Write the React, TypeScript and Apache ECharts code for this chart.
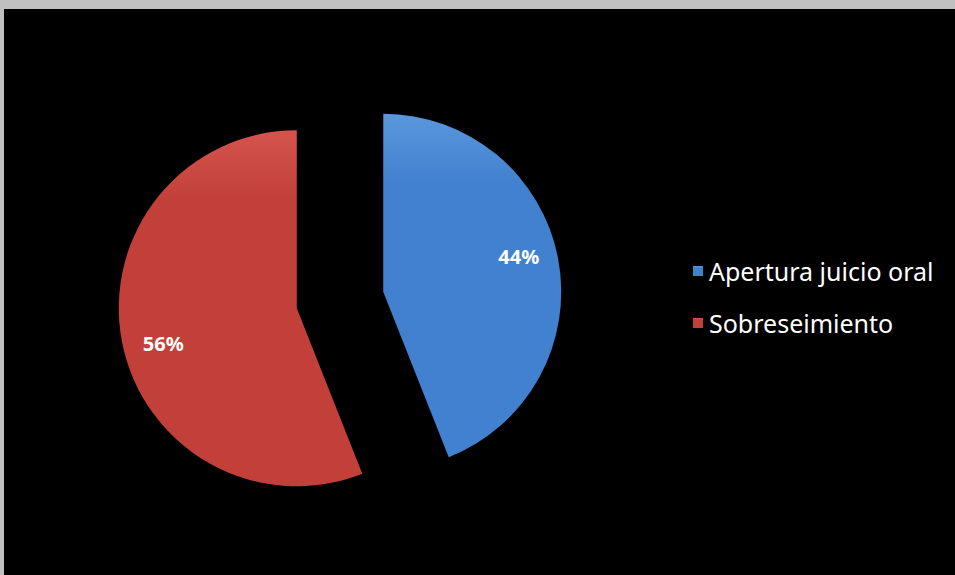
import React, { useEffect, useRef } from "react";
import * as echarts from "echarts";

const categories = ["Apertura juicio oral", "Sobreseimiento"];
const values = [44, 56];
const colors = ["#4281cf", "#c3403a"];
const lightColors = ["#5a97dc", "#d4544d"];
const labelFormats = ["{d}%\n ", " \n{d}%"];
const labelPads = [
  [0, 4, 0, 0],
  [0, 0, 0, 8],
];

export default function App() {
  const ref = useRef<HTMLDivElement>(null);
  useEffect(() => {
    if (!ref.current) return;
    const chart = echarts.init(ref.current, null, { renderer: "svg" });
    const mk = (transparent: boolean) =>
      categories.map((name, i) => ({
        name,
        value: values[i],
        selected: true,
        label: transparent
          ? { formatter: labelFormats[i], padding: labelPads[i] }
          : undefined,
        itemStyle: transparent
          ? { color: "rgba(0,0,0,0)" }
          : {
              color: new echarts.graphic.LinearGradient(0, 0, 0, 1, [
                { offset: 0, color: lightColors[i] },
                { offset: 0.2, color: colors[i] },
                { offset: 1, color: colors[i] },
              ]),
            },
      }));
    chart.setOption({
      animation: false,
      backgroundColor: "#000000",
      graphic: [
        { type: "rect", shape: { x: 0, y: 0, width: 955, height: 9 }, style: { fill: "#c0c0c0" } },
        { type: "rect", shape: { x: 0, y: 0, width: 4, height: 575 }, style: { fill: "#c0c0c0" } },
      ],
      legend: {
        orient: "vertical",
        left: 688,
        top: 253,
        icon: "rect",
        itemWidth: 10,
        itemHeight: 10,
        itemGap: 26,
        selectedMode: false,
        data: categories,
        textStyle: {
          color: "#ffffff",
          fontFamily: "Noto Sans",
          fontSize: 25,
          lineHeight: 26,
          padding: [0, 0, 0, 1],
        },
      },
      series: [
        {
          type: "pie",
          center: [340, 300],
          radius: 178,
          startAngle: 90,
          clockwise: true,
          selectedMode: "multiple",
          selectedOffset: 44,
          silent: true,
          label: { show: false },
          labelLine: { show: false },
          emphasis: { disabled: true },
          data: mk(false),
        },
        {
          type: "pie",
          center: [340, 300],
          radius: [96, 178],
          startAngle: 90,
          clockwise: true,
          selectedMode: "multiple",
          selectedOffset: 44,
          silent: true,
          emphasis: { disabled: true },
          label: {
            show: true,
            position: "inside",
            color: "#ffffff",
            fontFamily: "Noto Sans",
            fontWeight: "bold",
            fontSize: 20,
            lineHeight: 18,
          },
          labelLine: { show: false },
          data: mk(true),
        },
      ],
    });
    return () => chart.dispose();
  }, []);
  return (
    <div
      ref={ref}
      style={{ position: "fixed", left: 0, top: 0, width: 955, height: 575 }}
    />
  );
}
